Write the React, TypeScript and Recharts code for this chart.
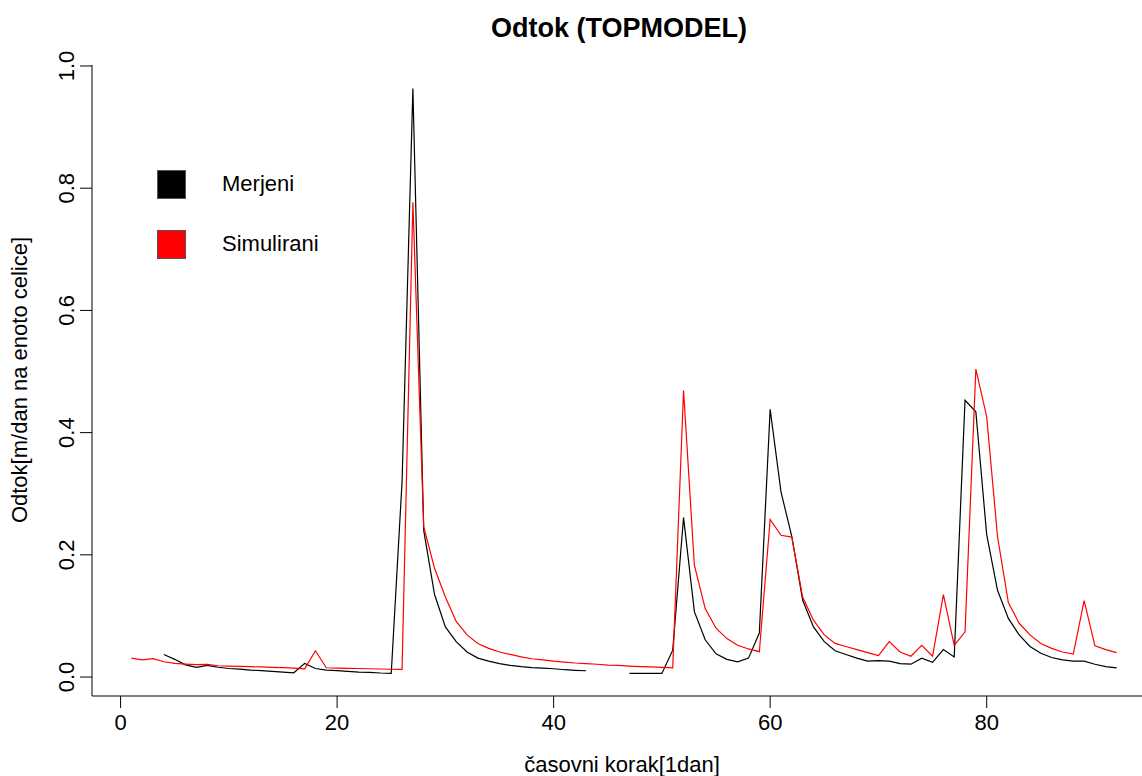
import { LineChart, Line, XAxis, YAxis } from 'recharts'

// measured runoff (gaps where no measurement)
const merjeni: (number | null)[] = [
  null, null, null, 0.037, 0.029, 0.02, 0.016, 0.019, 0.016, 0.014,
  0.013, 0.0115, 0.0104, 0.0093, 0.0082, 0.007, 0.0224, 0.014, 0.0115, 0.0104,
  0.0093, 0.0082, 0.0077, 0.0066, 0.006, 0.32, 0.963, 0.24, 0.135, 0.082,
  0.058, 0.041, 0.031, 0.026, 0.022, 0.019, 0.017, 0.0155, 0.0145, 0.0136,
  0.012, 0.011, 0.0103, null, null, null, 0.006, 0.006, 0.006, 0.006,
  0.044, 0.261, 0.107, 0.061, 0.038, 0.029, 0.025, 0.031, 0.072, 0.438,
  0.303, 0.23, 0.126, 0.082, 0.058, 0.043, 0.037, 0.031, 0.026, 0.027,
  0.026, 0.022, 0.021, 0.031, 0.024, 0.045, 0.033, 0.453, 0.434, 0.233,
  0.142, 0.096, 0.069, 0.05, 0.039, 0.032, 0.028, 0.026, 0.026, 0.021,
  0.017, 0.015,
]

// TOPMODEL simulated runoff
const simulirani: number[] = [
  0.031, 0.028, 0.03, 0.025, 0.0224, 0.0213, 0.0204, 0.0207, 0.0185, 0.018,
  0.0175, 0.017, 0.0166, 0.016, 0.0155, 0.0145, 0.0135, 0.043, 0.0152, 0.0147,
  0.0143, 0.014, 0.0136, 0.0132, 0.0128, 0.0126, 0.777, 0.246, 0.178, 0.131,
  0.091, 0.069, 0.055, 0.047, 0.041, 0.037, 0.033, 0.03, 0.028, 0.026,
  0.0245, 0.023, 0.022, 0.021, 0.0196, 0.019, 0.018, 0.0172, 0.0165, 0.016,
  0.0152, 0.469, 0.183, 0.112, 0.08, 0.063, 0.052, 0.046, 0.0415, 0.258,
  0.232, 0.229, 0.131, 0.093, 0.069, 0.055, 0.05, 0.045, 0.04, 0.035,
  0.058, 0.041, 0.034, 0.052, 0.034, 0.135, 0.052, 0.074, 0.504, 0.426,
  0.23, 0.122, 0.088, 0.069, 0.055, 0.047, 0.041, 0.0376, 0.125, 0.051,
  0.045, 0.04,
]

const xTicks = [0, 20, 40, 60, 80]
const yTicks = [0, 0.2, 0.4, 0.6, 0.8, 1.0]

const data = simulirani.map((s, i) => ({ t: i + 1, merjeni: merjeni[i], simulirani: s }))

const font = '"Liberation Sans", Arial, sans-serif'

const legendItems = [
  { label: 'Merjeni', color: '#000000' },
  { label: 'Simulirani', color: '#ff0000' },
]

const YTick = ({ x, y, payload }: any) => (
  <text
    x={x - 4}
    y={y}
    transform={`rotate(-90 ${x - 4} ${y})`}
    textAnchor="middle"
    fontSize={22}
    fontFamily={font}
    fill="#000"
  >
    {Number(payload.value).toFixed(1)}
  </text>
)

const XTick = ({ x, y, payload }: any) => (
  <text x={x} y={y + 20} textAnchor="middle" fontSize={22} fontFamily={font} fill="#000">
    {payload.value}
  </text>
)

export default function App() {
  return (
    <div
      style={{
        position: 'fixed',
        left: 0,
        top: 0,
        width: 1142,
        height: 776,
        overflow: 'hidden',
        background: '#fff',
        fontFamily: font,
      }}
    >
      <div
        style={{
          position: 'absolute',
          left: 619,
          top: 28,
          transform: 'translate(-50%, -50%)',
          fontSize: 27,
          fontWeight: 'bold',
          whiteSpace: 'nowrap',
        }}
      >
        Odtok (TOPMODEL)
      </div>
      <div
        style={{
          position: 'absolute',
          left: 20,
          top: 380,
          transform: 'translate(-50%, -50%) rotate(-90deg)',
          fontSize: 22,
          whiteSpace: 'nowrap',
        }}
      >
        Odtok[m/dan na enoto celice]
      </div>
      <div
        style={{
          position: 'absolute',
          left: 622,
          top: 765,
          transform: 'translate(-50%, -50%)',
          fontSize: 22,
          whiteSpace: 'nowrap',
        }}
      >
        časovni korak[1dan]
      </div>
      <div style={{ position: 'absolute', left: 0, top: 0 }}>
        <LineChart width={1160} height={776} data={data} margin={{ top: 65, right: 12, bottom: 0, left: 0 }}>
          <XAxis
            dataKey="t"
            type="number"
            domain={[-2.64, 94.9]}
            allowDataOverflow
            ticks={xTicks}
            height={80}
            tickSize={12}
            stroke="#000"
            tick={<XTick />}
          />
          <XAxis xAxisId="top" orientation="top" dataKey="t" type="number" domain={[-2.64, 94.9]} height={0} tick={false} tickLine={false} stroke="#000" />
          <YAxis
            type="number"
            domain={[-0.031, 1.0016]}
            allowDataOverflow
            ticks={yTicks}
            width={92}
            tickSize={12}
            stroke="#000"
            tick={<YTick />}
          />
          <Line
            type="linear"
            dataKey="merjeni"
            stroke="#000000"
            strokeWidth={1.2}
            dot={false}
            isAnimationActive={false}
          />
          <Line
            type="linear"
            dataKey="simulirani"
            stroke="#ff0000"
            strokeWidth={1.2}
            dot={false}
            isAnimationActive={false}
          />
        </LineChart>
      </div>
      <div style={{ position: 'absolute', left: 157, top: 169, fontSize: 22 }}>
        {legendItems.map((it) => (
          <div key={it.label} style={{ display: 'flex', alignItems: 'center', height: 30, marginBottom: 30 }}>
            <div
              style={{
                width: 27,
                height: 27,
                background: it.color,
                border: '1px solid #555',
                marginRight: 36,
              }}
            />
            <span>{it.label}</span>
          </div>
        ))}
      </div>
    </div>
  )
}
